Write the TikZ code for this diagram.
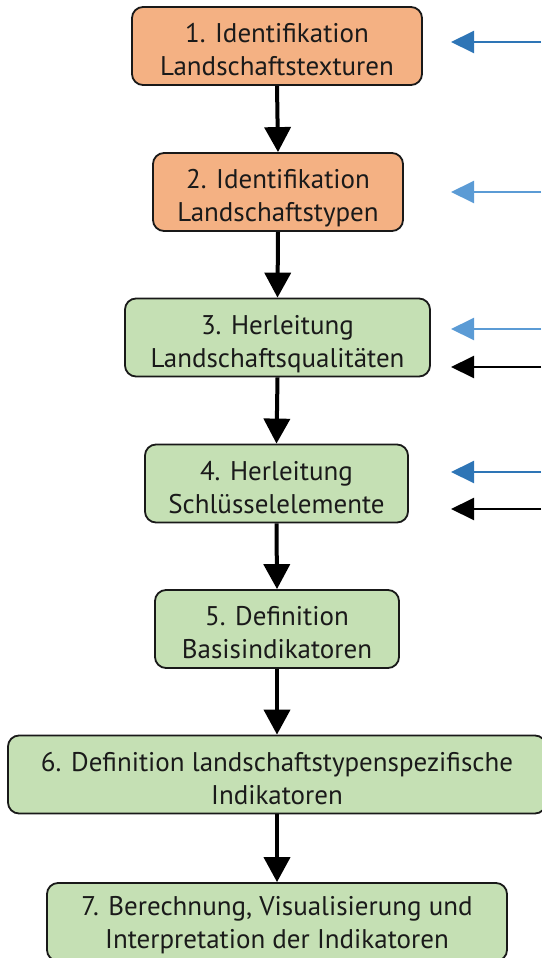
\documentclass[tikz,border=0pt]{standalone}
\usepackage{fontspec}
\setmainfont{PT Sans}
\usetikzlibrary{arrows.meta}
\definecolor{orangefill}{HTML}{F4B183}
\definecolor{greenfill}{HTML}{C5E0B4}
\definecolor{darkblue}{HTML}{2E75B6}
\definecolor{lightblue}{HTML}{5B9BD5}
\definecolor{txt}{HTML}{1A1A1A}
\newcommand{\twolines}[3][13pt]{\raisebox{-#1}[0pt][0pt]{\begin{tabular}{@{}c@{}}#2\\#3\end{tabular}}}
\begin{document}
\begin{tikzpicture}[x=1pt,y=-1pt,
  stepbox/.style={draw=black!90, line width=1.8pt, rounded corners=11pt, align=center,
    inner sep=0pt, text=txt, font=\fontsize{27}{33}\selectfont, minimum height=78pt},
  orangebox/.style={stepbox, fill=orangefill},
  greenbox/.style={stepbox, fill=greenfill},
  flow/.style={line width=4pt, -{Triangle[width=26pt,length=25pt]}},
  inarrow/.style={line width=2pt, -{Triangle[width=22pt,length=23pt]}}]
\useasboundingbox (0,0) rectangle (541,958);

\node[orangebox, minimum width=290pt] (b1) at (277,46) {\twolines{1. Identifikation}{Landschaftstexturen}};
\node[orangebox, minimum width=250pt] (b2) at (278,192) {\twolines{2. Identifikation}{Landschaftstypen}};
\node[greenbox, minimum width=305pt] (b3) at (277.5,337.5) {\twolines{3. Herleitung}{Landschaftsqualitäten}};
\node[greenbox, minimum width=263pt] (b4) at (276.5,483.5) {\twolines{4. Herleitung}{Schlüsselelemente}};
\node[greenbox, minimum width=244pt] (b5) at (277,629) {\twolines{5. Definition}{Basisindikatoren}};
\node[greenbox, minimum width=538pt] (b6) at (277,774.5) {\twolines{6. Definition landschaftstypenspezifische}{Indikatoren}};
\node[greenbox, minimum width=460pt] (b7) at (277,922) {\twolines[10pt]{7. Berechnung, Visualisierung und}{Interpretation der Indikatoren}};

\draw[flow] (b1.south) -- (b2.north);
\draw[flow] (b2.south) -- (b3.north);
\draw[flow] (b3.south) -- (b4.north);
\draw[flow] (b4.south) -- (b5.north);
\draw[flow] (b5.south) -- (b6.north);
\draw[flow] (b6.south) -- (b7.north);

\coordinate (s1) at (541,42);  \coordinate (t1) at (451,42);
\coordinate (s2) at (541,192); \coordinate (t2) at (451,192);
\coordinate (s3a) at (541,329); \coordinate (t3a) at (451,329);
\coordinate (s3b) at (541,367); \coordinate (t3b) at (451,367);
\coordinate (s4a) at (541,472); \coordinate (t4a) at (451,472);
\coordinate (s4b) at (541,509); \coordinate (t4b) at (451,509);

\draw[inarrow, darkblue] (s1) -- (t1);
\draw[inarrow, lightblue] (s2) -- (t2);
\draw[inarrow, lightblue] (s3a) -- (t3a);
\draw[inarrow, black] (s3b) -- (t3b);
\draw[inarrow, darkblue] (s4a) -- (t4a);
\draw[inarrow, black] (s4b) -- (t4b);
\end{tikzpicture}
\end{document}
